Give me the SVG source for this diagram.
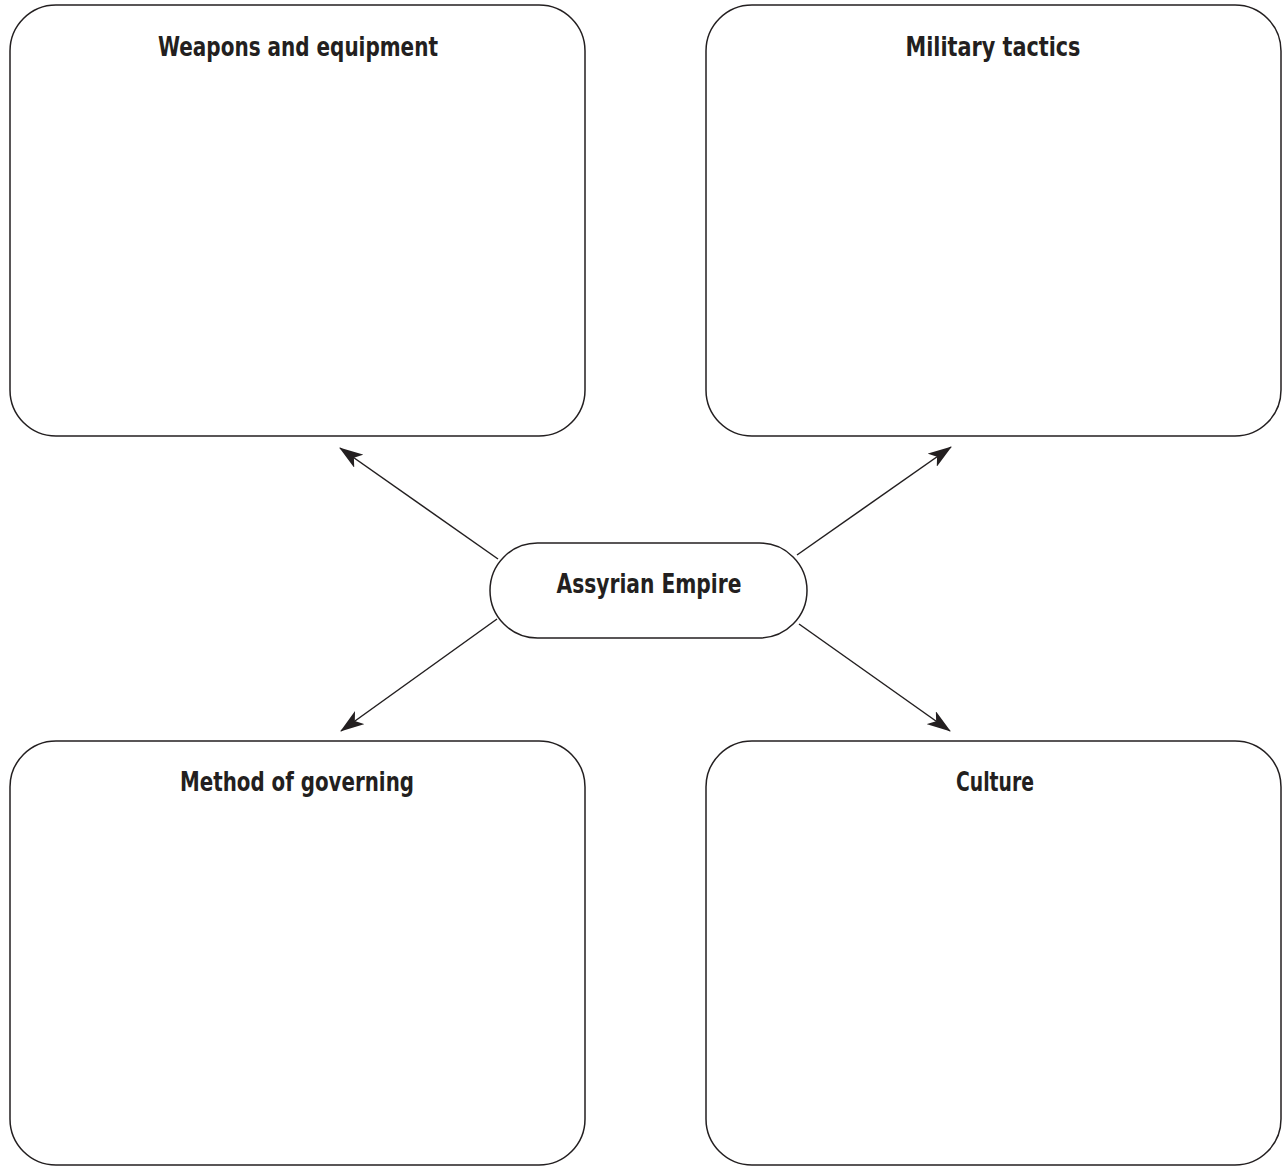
<svg xmlns="http://www.w3.org/2000/svg" width="1287" height="1170" viewBox="0 0 1287 1170">
<style>
.box{fill:#fff;stroke:#231f20;stroke-width:1.5}
.lbl{font-family:"DejaVu Sans Condensed","Liberation Sans Narrow","Liberation Sans",sans-serif;font-weight:bold;font-size:27px;fill:#231f20;text-anchor:middle}
.conn{stroke:#231f20;stroke-width:1.5;fill:none}
</style>
<defs>
<marker id="ah" viewBox="0 0 24 16" refX="23" refY="8" markerWidth="24" markerHeight="16" markerUnits="userSpaceOnUse" orient="auto">
<path d="M0,0 L24,8 L0,16 L6,8 Z" fill="#231f20"/>
</marker>
</defs>
<rect width="1287" height="1170" fill="#fff"/>
<g id="weapons">
<rect class="box" x="10" y="5" width="575" height="431" rx="46" ry="46"/>
<text class="lbl" x="298" y="56" textLength="280" lengthAdjust="spacingAndGlyphs">Weapons and equipment</text>
</g>
<g id="tactics">
<rect class="box" x="706" y="5" width="575" height="431" rx="46" ry="46"/>
<text class="lbl" x="993" y="56" textLength="175" lengthAdjust="spacingAndGlyphs">Military tactics</text>
</g>
<g id="governing">
<rect class="box" x="10" y="741" width="575" height="424" rx="46" ry="46"/>
<text class="lbl" x="297" y="791" textLength="234" lengthAdjust="spacingAndGlyphs">Method of governing</text>
</g>
<g id="culture">
<rect class="box" x="706" y="741" width="575" height="424" rx="46" ry="46"/>
<text class="lbl" x="995" y="791" textLength="78" lengthAdjust="spacingAndGlyphs">Culture</text>
</g>
<g id="center">
<rect class="box" x="490" y="543" width="317" height="95" rx="47.5" ry="47.5"/>
<text class="lbl" x="649" y="593" textLength="185" lengthAdjust="spacingAndGlyphs">Assyrian Empire</text>
</g>
<g id="connectors">
<line class="conn" x1="498" y1="559" x2="340" y2="448" marker-end="url(#ah)"/>
<line class="conn" x1="797" y1="555" x2="951" y2="447" marker-end="url(#ah)"/>
<line class="conn" x1="497" y1="619" x2="341" y2="731" marker-end="url(#ah)"/>
<line class="conn" x1="799" y1="624" x2="950" y2="731" marker-end="url(#ah)"/>
</g>
</svg>
